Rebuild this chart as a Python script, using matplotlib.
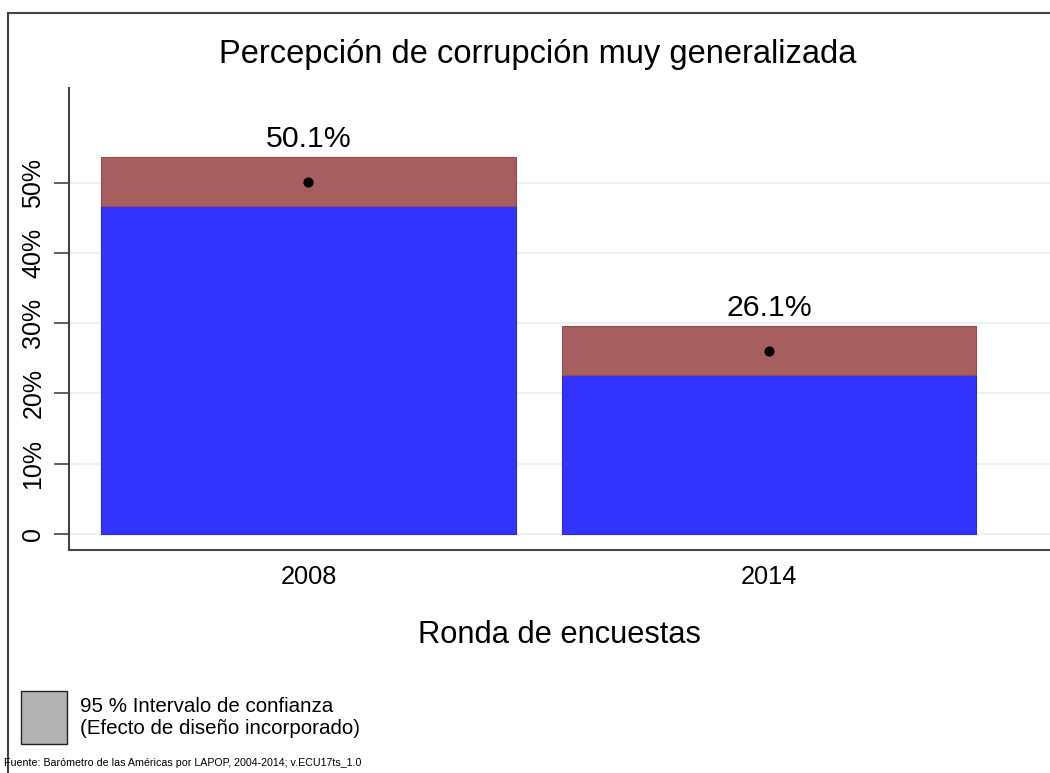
import matplotlib.pyplot as plt
from matplotlib.lines import Line2D
from matplotlib.patches import Rectangle

plt.rcParams['font.family'] = ['Liberation Sans', 'DejaVu Sans']

# Data
rounds = ["2008", "2014"]
means = [50.1, 26.1]
ci_low = [46.7, 22.6]
ci_high = [53.7, 29.6]
yticks = [0, 10, 20, 30, 40, 50]
ytick_labels = ["0", "10%", "20%", "30%", "40%", "50%"]

bar_color = '#3333ff'
ci_color = '#a65e5e'
grid_color = '#eaf2f3'

fig = plt.figure(figsize=(10.5, 7.73), dpi=100)
ax = fig.add_axes([69 / 1050, 1 - 550 / 773, 1 - 69 / 1050, (550 - 88) / 773])

x = [1, 2]
width = 0.9
ax.bar(x, ci_low, width, color=bar_color, edgecolor='#2a2ae0', linewidth=0.8, zorder=2)
ax.bar(x, [h - l for h, l in zip(ci_high, ci_low)], width, bottom=ci_low,
       color=ci_color, edgecolor='#9a4a4a', linewidth=0.8, zorder=2)
ax.scatter(x, means, s=40, color='black', zorder=3)

for xi, m, h in zip(x, means, ci_high):
    ax.text(xi, h + 0.6, f"{m:.1f}%", ha='center', va='bottom', fontsize=21.8)

ax.set_xlim(0.48, 2.61)
ax.set_ylim(-2.3, 63.5)
ax.set_xticks(x)
ax.set_xticklabels(rounds, fontsize=18.3)
ax.set_yticks(yticks)
ax.set_yticklabels(ytick_labels, fontsize=18, rotation=90, va='center')
ax.tick_params(axis='y', length=11, width=1.2, color='#444444', pad=6)
ax.tick_params(axis='x', length=0, pad=11)
for v in yticks:
    ax.axhline(v, color=grid_color, linewidth=1.5, zorder=1)

for side in ['top', 'right']:
    ax.spines[side].set_visible(False)
for side in ['left', 'bottom']:
    ax.spines[side].set_color('#444444')
    ax.spines[side].set_linewidth(1.5)

ax.set_xlabel("Ronda de encuestas", fontsize=22.2, labelpad=22)
fig.text(538 / 1050, 1 - 55 / 773, "Percepción de corrupción muy generalizada",
         ha='center', va='center', fontsize=23.5)

# outer frame (top and left edges)
fig.add_artist(Line2D([8 / 1050, 1], [1 - 13 / 773, 1 - 13 / 773], color='#444444', linewidth=1.5))
fig.add_artist(Line2D([8 / 1050, 8 / 1050], [0, 1 - 13 / 773], color='#444444', linewidth=1.5))

# legend box
fig.add_artist(Rectangle((21 / 1050, 1 - 744 / 773), 46 / 1050, 53 / 773,
                         facecolor='#b3b3b3', edgecolor='#222222', linewidth=1))
fig.text(80 / 1050, 1 - 706 / 773, "95 % Intervalo de confianza", ha='left', va='center', fontsize=14.8)
fig.text(80 / 1050, 1 - 729 / 773, "(Efecto de diseño incorporado)", ha='left', va='center', fontsize=14.8)

fig.text(4 / 1050, 1 - 763 / 773, "Fuente: Barómetro de las Américas por LAPOP, 2004-2014; v.ECU17ts_1.0",
         ha='left', va='center', fontsize=7.7)

fig.savefig("out.png", dpi=100)
